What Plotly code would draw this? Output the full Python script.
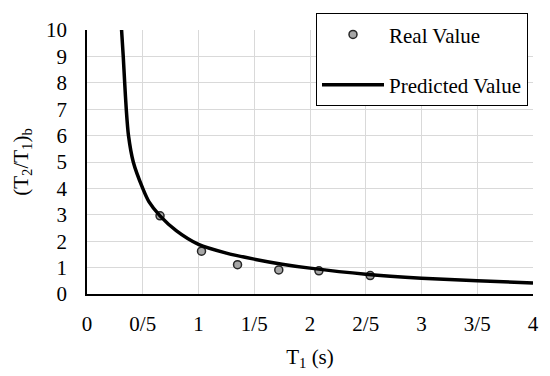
import plotly.graph_objects as go

# Real (measured) values
real_x = [0.655, 1.027, 1.35, 1.72, 2.08, 2.54]
real_y = [2.96, 1.62, 1.11, 0.91, 0.88, 0.70]

# Predicted curve values
pred_x = [0.31, 0.325, 0.338, 0.352, 0.372, 0.415, 0.50, 0.555, 0.655,
          0.8, 1.0, 1.25, 1.5, 1.75, 2.0, 2.5, 3.0, 3.5, 4.0]
pred_y = [10, 9, 8, 7, 6, 5, 4, 3.5, 2.96,
          2.4, 1.88, 1.55, 1.32, 1.13, 0.98, 0.75, 0.6, 0.5, 0.42]

x_tickvals = [0, 0.5, 1, 1.5, 2, 2.5, 3, 3.5, 4]
x_ticktext = ["0", "0/5", "1", "1/5", "2", "2/5", "3", "3/5", "4"]
y_tickvals = list(range(0, 11))

FONT = "Liberation Serif, Times New Roman, serif"

fig = go.Figure()
fig.add_trace(go.Scatter(
    x=real_x, y=real_y, mode="markers", name="Real Value", legendgroup="a",
    marker=dict(size=8, color="#a6a6a6", line=dict(color="#262626", width=1.5)),
))
fig.add_trace(go.Scatter(
    x=pred_x, y=pred_y, mode="lines", name="Predicted Value", legendgroup="b",
    line=dict(color="black", width=3.5, shape="spline", smoothing=0.7),
))

fig.update_layout(
    width=550, height=376,
    margin=dict(l=87, r=11, t=30, b=80),
    paper_bgcolor="white", plot_bgcolor="white",
    font=dict(family=FONT, size=21, color="black"),
    showlegend=True,
    legend=dict(
        x=0.513, y=1.064, xanchor="left", yanchor="top",
        bordercolor="black", borderwidth=1.2, bgcolor="white",
        font=dict(family=FONT, size=21, color="black"),
        tracegroupgap=20, itemwidth=62,
    ),
    xaxis=dict(
        range=[0, 4], tickvals=x_tickvals, ticktext=x_ticktext,
        showgrid=True, gridcolor="#d9d9d9", gridwidth=1.3,
        showline=True, linecolor="black", linewidth=1.5,
        zeroline=False, ticks="", ticklen=0, ticklabelstandoff=10,
        title=dict(text="T<sub>1</sub> (s)", font=dict(family=FONT, size=21, color="black"), standoff=14),
        tickfont=dict(family=FONT, size=21, color="black"),
    ),
    yaxis=dict(
        range=[0, 10], tickvals=y_tickvals,
        showgrid=True, gridcolor="#d9d9d9", gridwidth=1.3,
        showline=True, linecolor="black", linewidth=1.5,
        zeroline=False, ticks="", ticklen=0, ticklabelstandoff=14,
        title=dict(text="(T<sub>2</sub>/T<sub>1</sub>)<sub>b</sub>", font=dict(family=FONT, size=21, color="black"), standoff=12),
        tickfont=dict(family=FONT, size=21, color="black"),
    ),
)

fig.write_html("out.html")
